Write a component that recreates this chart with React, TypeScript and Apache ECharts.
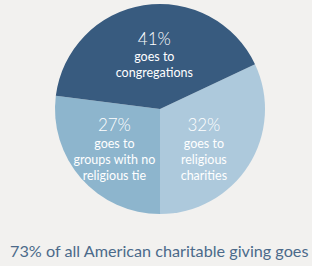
import React, { useEffect, useRef } from "react";
import * as echarts from "echarts";

const categories = ["goes to\nreligious\ncharities", "goes to\ngroups with no\nreligious tie", "goes to\ncongregations"];
const values = [32, 27, 41];
const colors = ["#adc9dc", "#8db5cd", "#385b7f"];
const footnote = "73% of all American charitable giving goes";
const labelShift = [
  [-3, 10],
  [-4, 3],
  [3, 0],
];

export default function App() {
  const ref = useRef<HTMLDivElement>(null);
  useEffect(() => {
    if (!ref.current) return;
    const chart = echarts.init(ref.current, null, { renderer: "svg" });
    chart.setOption({
      animation: false,
      backgroundColor: "#f2f1ef",
      title: {
        text: footnote,
        left: 10,
        top: 241,
        textStyle: {
          fontFamily: "Lato",
          fontWeight: "normal",
          fontSize: 16.2,
          color: "#4b6a8a",
          lineHeight: 18,
        },
        padding: 0,
      },
      series: [
        {
          type: "pie",
          center: [160, 109],
          radius: [0, 105],
          startAngle: 25.2,
          clockwise: true,
          silent: true,
          itemStyle: { borderWidth: 0 },
          data: values.map((v, i) => ({
            value: v,
            name: categories[i],
            itemStyle: { color: colors[i] },
          })),
          label: {
            show: true,
            position: "inside",
            color: "#ffffff",
            fontFamily: "Lato",
            formatter: (p: any) => `{pct|${p.value}%}\n{body|${p.name.split("\n").join("}\n{body|")}}`,
            rich: {
              pct: { fontSize: 17, lineHeight: 21, color: "#ffffff", fontFamily: "Lato", fontWeight: 300 },
              body: { fontSize: 12.5, lineHeight: 16, color: "#ffffff", fontFamily: "Lato" },
            },
          },
          labelLayout: (p: any) => ({
            dx: labelShift[p.dataIndex][0],
            dy: labelShift[p.dataIndex][1],
          }),
          labelLine: { show: false },
        },
      ],
    });
    return () => chart.dispose();
  }, []);
  return <div ref={ref} style={{ width: 312, height: 266, position: "absolute", left: 0, top: 0 }} />;
}
